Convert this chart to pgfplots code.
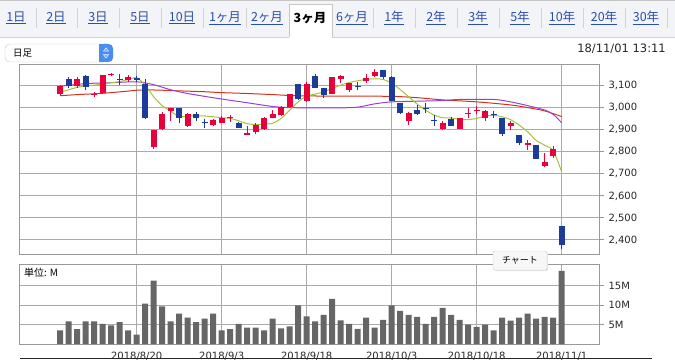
\documentclass[border=0pt]{standalone}
\usepackage{pgfplots}
\pgfplotsset{compat=1.18}
\usepackage{pgfplotstable}
\usepackage{fontspec}
\setmainfont{DejaVu Sans}
\newfontfamily\jp{Noto Sans CJK JP}

\definecolor{upred}{HTML}{E8003A}
\definecolor{dnblue}{HTML}{1B3C9A}
\definecolor{maY}{HTML}{A8C23A}
\definecolor{maR}{HTML}{D0341E}
\definecolor{maP}{HTML}{9B3FD0}
\definecolor{volgray}{HTML}{666666}
\definecolor{gridgray}{HTML}{AAAAAA}
\definecolor{boxgray}{HTML}{999999}
\definecolor{linkblue}{HTML}{2B4FA8}
\definecolor{tabbg}{HTML}{F3F4F7}
\definecolor{btnblue}{HTML}{4A8CF0}

\pgfplotstableread{
i o h l c
-9 3065 3102 3060 3100
-7 3098 3140 3092 3132
-5 3058 3070 3050 3063
-4 3068 3150 3065 3148
-3 3148 3160 3143 3155
-1 3126 3148 3118 3141
2 2820 2900 2811 2898
3 2902 2982 2898 2974
4 2985 3000 2941 3000
6 2918 2975 2915 2970
9 2920 2947 2917 2944
10 2933 2962 2929 2956
11 2952 2967 2936 2957
13 2878 2918 2876 2884
14 2888 2932 2883 2924
15 2902 2959 2898 2952
16 2955 2989 2952 2974
17 2967 3008 2964 3005
18 3005 3065 3002 3061
20 3032 3118 3027 3106
23 3062 3141 3061 3138
24 3133 3147 3114 3144
25 3080 3114 3071 3114
27 3121 3152 3111 3136
28 3145 3176 3141 3161
32 2939 2982 2924 2977
36 2902 2941 2898 2932
38 2906 2956 2902 2952
39 2972 2997 2952 2977
40 2987 3008 2971 2992
41 2952 2990 2941 2985
44 2917 2941 2900 2929
46 2833 2853 2808 2838
48 2736 2795 2730 2755
49 2780 2826 2774 2815
}\up

\pgfplotstableread{
i o h l c
-8 3132 3140 3088 3098
-6 3145 3150 3080 3095
-2 3132 3155 3103 3127
0 3136 3145 3118 3128
1 3110 3133 2950 2952
5 3000 3000 2929 2952
7 2974 2982 2941 2952
8 2937 2947 2910 2932
12 2933 2935 2907 2909
19 3106 3106 3035 3042
21 3144 3152 3088 3091
22 3092 3092 3045 3058
26 3098 3118 3080 3093
29 3174 3174 3133 3138
30 3141 3144 3030 3030
31 3023 3023 2971 2977
33 2992 3012 2967 2971
34 2999 3023 2977 2994
35 2945 2967 2918 2940
37 2947 2959 2917 2917
42 2971 2986 2956 2966
43 2956 2956 2873 2879
45 2876 2876 2833 2842
47 2833 2833 2767 2767
50 2464 2464 2358 2376
}\down

\pgfplotstableread{
i v
-9 3.5
-8 5.8
-7 3.8
-6 5.8
-5 5.8
-4 5.2
-3 4.8
-2 5.6
-1 3.5
0 2.4
1 10.4
2 16.3
3 9.7
4 5.8
5 7.8
6 6.8
7 5.6
8 6.5
9 7.8
10 3.5
11 3.8
12 5.2
13 4.2
14 4.2
15 3.5
16 6.5
17 4.0
18 4.5
19 9.9
20 7.1
21 5.8
22 7.5
23 11.6
24 6.1
25 5.2
26 3.9
27 6.8
28 4.2
29 6.2
30 9.9
31 8.5
32 7.5
33 7.0
34 5.2
35 7.0
36 9.3
37 7.5
38 6.2
39 5.0
40 4.4
41 5.0
42 3.5
43 6.8
44 6.0
45 6.8
46 7.8
47 6.5
48 7.0
49 6.8
50 18.8
}\vol

\begin{document}
\begin{tikzpicture}[x=1pt,y=1pt]
\path[use as bounding box] (0,0) rectangle (675,362);
% tab bar
\fill[tabbg] (0,362) rectangle (675,325);
\draw[gray!45] (0,361.5) -- (675,361.5);
\draw[gray!35] (0,325) -- (289,325);
\draw[gray!35] (332,325) -- (675,325);
\fill[white] (289,358) rectangle (332,325);
\draw[gray!45] (289,325) -- (289,358) -- (332,358) -- (332,325);
\foreach \x in {36,77,119,161,203,246,373,415,457,499,541,583,625,667}
  \draw[gray!35] (\x,354) -- (\x,334);
\foreach \x/\t in {16/1日,56/2日,98/3日,140/5日,182/10日,225/1ヶ月,267/2ヶ月,352/6ヶ月,394/1年,436/2年,478/3年,520/5年,562/10年,604/20年,646/30年}
  \node[text=linkblue, font=\jp\fontsize{12.5}{13}\selectfont, inner sep=0pt] at (\x,344) {\underline{\t}};
\node[text=black, font=\jp\bfseries\fontsize{12.5}{13}\selectfont, inner sep=0pt] at (310,344) {3ヶ月};
% dropdown
\draw[gray!45, fill=white, rounded corners=4.5pt] (5,318) rectangle (113,300);
\fill[btnblue, rounded corners=4.5pt] (99,318) rectangle (113,300);
\fill[btnblue] (99,318) rectangle (103,300);
\fill[white] (103,310.5) -- (109,310.5) -- (106,314.5) -- cycle;
\fill[btnblue] (104.2,311.3) -- (107.8,311.3) -- (106,313.3) -- cycle;
\fill[white] (103,307.5) -- (109,307.5) -- (106,303.5) -- cycle;
\fill[btnblue] (104.2,306.7) -- (107.8,306.7) -- (106,304.7) -- cycle;
\node[anchor=west, font=\jp\fontsize{9.5}{10}\selectfont, inner sep=0pt] at (13,309) {日足};
% date/time
\node[anchor=east, font=\fontsize{11.5}{12}\selectfont, inner sep=0pt, text=black!85] at (666,313) {18/11/01 13:11};

% price axis
\begin{axis}[
  at={(20pt,108pt)}, anchor=south west,
  width=579pt, height=190pt, scale only axis,
  xmin=-13.73, xmax=54.39, ymin=2336, ymax=3199,
  xtick={0,10,20,30,40,50}, xticklabels={},
  ytick={2400,2500,2600,2700,2800,2900,3000,3100},
  yticklabels={{2,400},{2,500},{2,600},{2,700},{2,800},{2,900},{3,000},{3,100}},
  grid=major, grid style={draw=gridgray, line width=1pt},
  axis line style={draw=boxgray, line width=1pt},
  tick align=outside, ytick pos=right, yticklabel pos=right,
  major tick length=5pt,
  xtick style={draw=none},
  ytick style={draw=boxgray, line width=1pt},
  yticklabel style={font=\fontsize{10}{12}\selectfont, text=black!85, anchor=west, xshift=1pt},
]
\addplot[maR, line width=1pt, smooth] coordinates {(-9,3055) (-7,3060) (-4,3066) (-1,3076) (0,3080) (2,3081) (5,3077) (8,3073) (10,3069) (13,3065) (16,3060) (18,3056) (20,3054) (25,3053) (30,3052) (33,3046) (36,3036) (40,3027) (44,3013) (46,3001) (48,2986) (50,2960)};
\addplot[maP, line width=1pt, smooth] coordinates {(-9,3098) (-6,3110) (-3,3114) (0,3118) (2,3105) (4,3082) (6,3065) (8,3052) (10,3040) (13,3023) (16,3006) (18,3001) (20,3000) (24,3000) (26,3003) (28,3018) (30,3027) (33,3030) (36,3033) (38,3038) (42,3038) (44,3027) (46,3010) (48,2990) (49,2970) (50,2932)};
\addplot[maY, line width=1pt, smooth] coordinates {(-9,3070) (-8,3082) (-7,3093) (-6,3099) (-5,3103) (-4,3108) (-3,3114) (-2,3119) (-1,3129) (0,3136) (1,3103) (2,3050) (3,3010) (4,2985) (5,2960) (6,2962) (7,2964) (8,2963) (9,2959) (10,2955) (11,2952) (12,2941) (13,2928) (14,2924) (15,2926) (16,2930) (17,2952) (18,2989) (19,3027) (20,3053) (21,3062) (22,3073) (23,3088) (24,3103) (25,3115) (26,3123) (27,3129) (28,3132) (29,3129) (30,3111) (31,3083) (32,3050) (33,3017) (34,2989) (35,2967) (36,2955) (37,2954) (38,2947) (39,2946) (40,2952) (41,2962) (42,2966) (43,2959) (44,2946) (45,2921) (46,2891) (47,2852) (48,2830) (49,2805) (50,2709)};
% up candles
\addplot[draw=none, forget plot, error bars/.cd, y dir=plus, y explicit, error mark=none,
  error bar style={draw=upred, line width=1.1pt}]
  table[x=i, y=l, y error expr=\thisrow{h}-\thisrow{l}] {\up};
\addplot[draw=none, forget plot, error bars/.cd, y dir=plus, y explicit, error mark=none,
  error bar style={draw=upred, line width=6pt}]
  table[x=i, y=o, y error expr=\thisrow{c}-\thisrow{o}] {\up};
% down candles
\addplot[draw=none, forget plot, error bars/.cd, y dir=plus, y explicit, error mark=none,
  error bar style={draw=dnblue, line width=1.1pt}]
  table[x=i, y=l, y error expr=\thisrow{h}-\thisrow{l}] {\down};
\addplot[draw=none, forget plot, error bars/.cd, y dir=plus, y explicit, error mark=none,
  error bar style={draw=dnblue, line width=6pt}]
  table[x=i, y=c, y error expr=\thisrow{o}-\thisrow{c}] {\down};
\end{axis}

% volume axis
\begin{axis}[
  at={(20pt,18pt)}, anchor=south west,
  width=579pt, height=79pt, scale only axis,
  xmin=-13.73, xmax=54.39, ymin=0, ymax=20.3,
  xtick={0,10,20,30,40,50},
  xticklabels={2018/8/20,2018/9/3,2018/9/18,2018/10/3,2018/10/18,2018/11/1},
  ytick={5,10,15}, yticklabels={5M,10M,15M},
  grid=major, grid style={draw=gridgray, line width=1pt},
  axis line style={draw=boxgray, line width=1pt},
  tick align=outside, ytick pos=right, yticklabel pos=right,
  major tick length=5pt,
  xtick style={draw=none},
  ytick style={draw=boxgray, line width=1pt},
  yticklabel style={font=\fontsize{10}{12}\selectfont, text=black!85, anchor=west, xshift=1pt},
  xticklabel style={font=\fontsize{10}{12}\selectfont, text=black!85},
]
\addplot[ybar, bar width=6pt, fill=volgray, draw=none] table[x=i, y=v] {\vol};
\end{axis}

\node[anchor=west, font=\jp\fontsize{10}{10}\selectfont, inner sep=0pt] at (24,89) {単位: M};
% tooltip
\fill[black!10, rounded corners=2pt] (494,91) rectangle (548,110);
\node[draw=gray!40, fill=gray!6, rounded corners=2pt, minimum width=54pt, minimum height=19pt, inner sep=0pt, font=\jp\fontsize{9}{9}\selectfont] at (520,101.5) {チャート};
% bottom line
\draw[black!85, line width=1pt] (20,4) -- (652,4);
\end{tikzpicture}
\end{document}
